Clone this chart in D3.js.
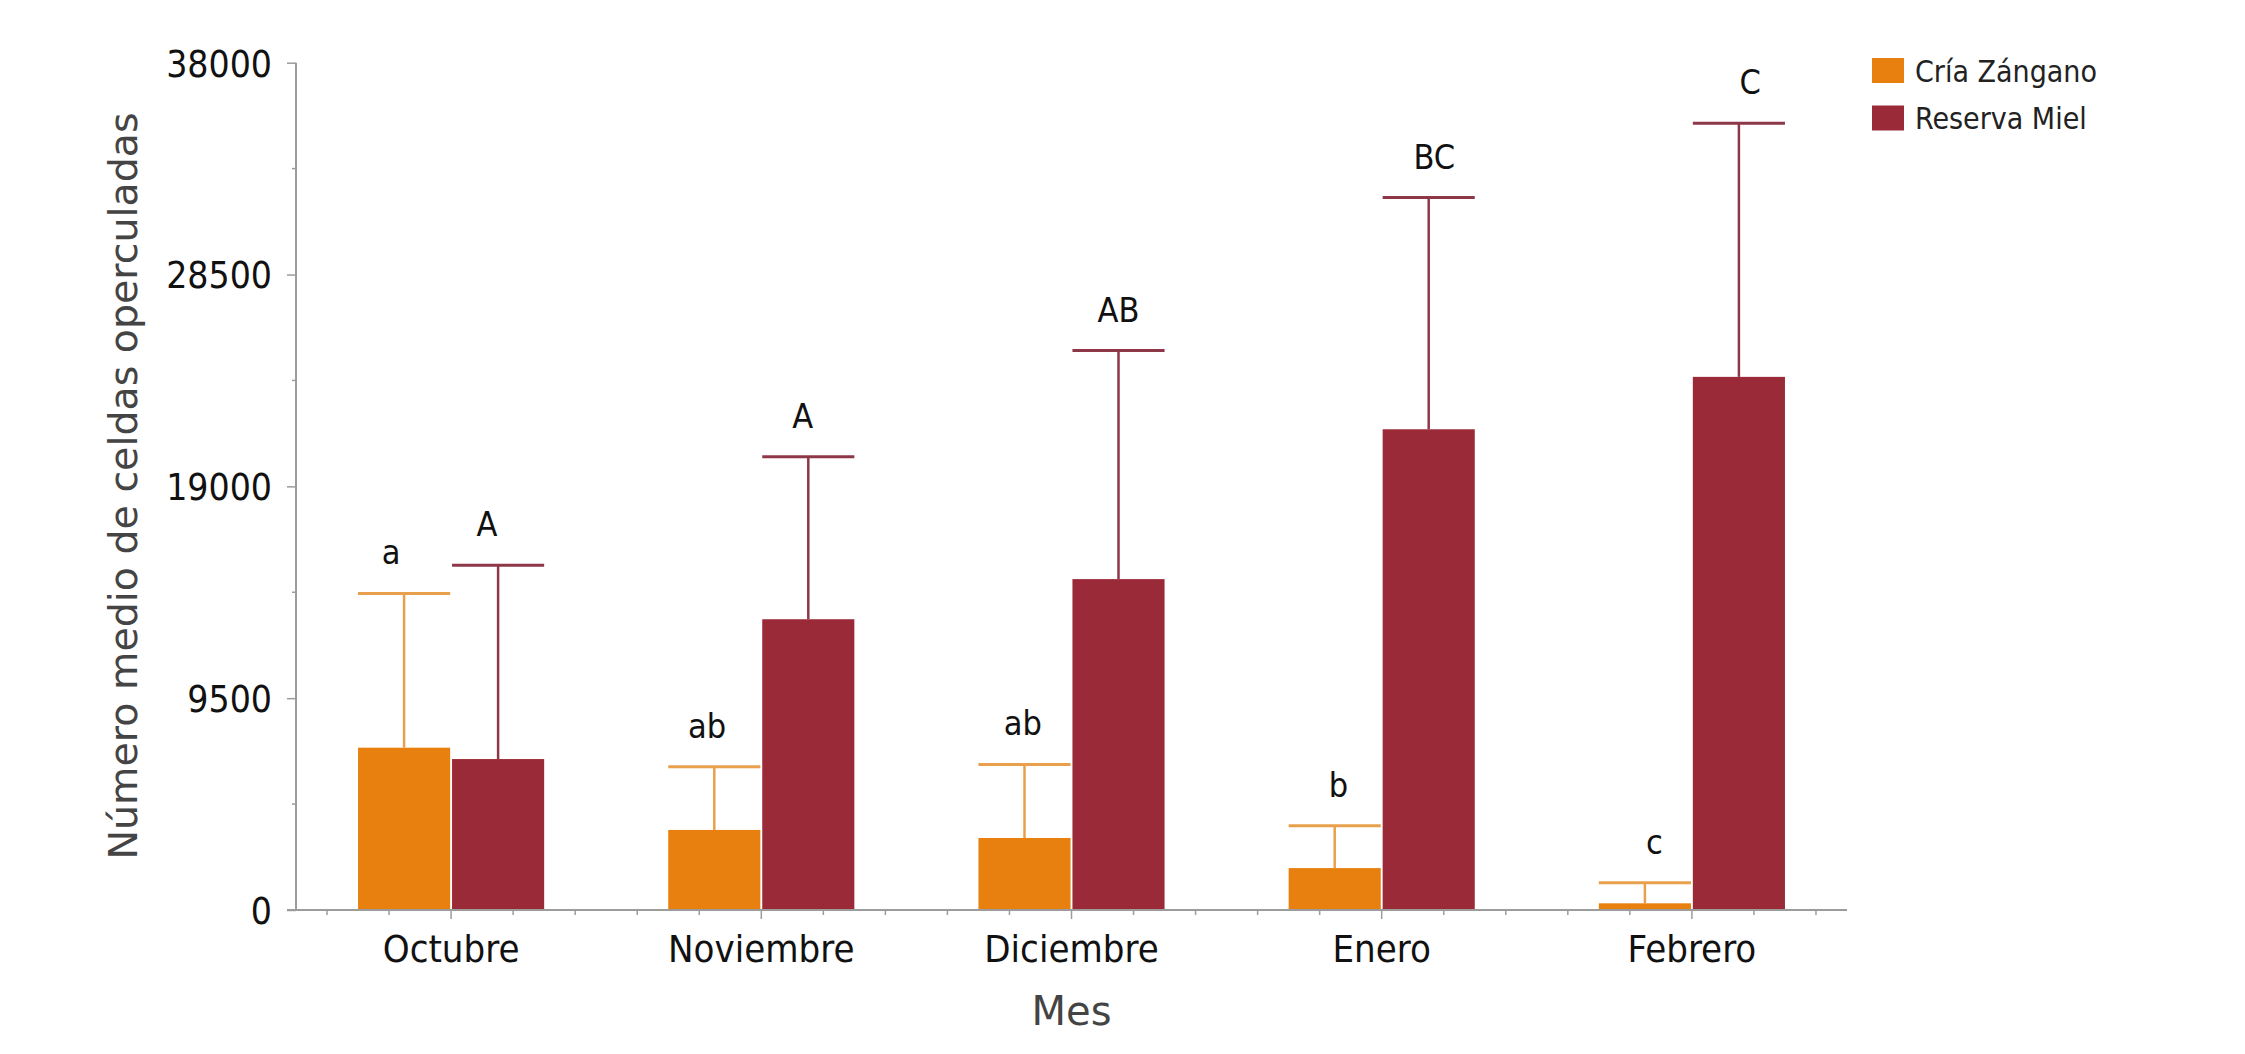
<!DOCTYPE html>
<html>
<head>
<meta charset="utf-8">
<script src="https://cdn.jsdelivr.net/npm/d3@7"></script>
<style>
  html, body { margin: 0; padding: 0; background: #ffffff; }
  svg { display: block; }
</style>
</head>
<body>
<svg id="chart" width="2245" height="1054"></svg>
<script>
// ---------------- data ----------------
const months = ["Octubre", "Noviembre", "Diciembre", "Enero", "Febrero"];
const seriesNames = ["Cría Zángano", "Reserva Miel"];
const criaMean = [7280, 3590, 3230, 1880, 300];
const criaErr = [6920, 2840, 3300, 1900, 920];
const mielMean = [6770, 13040, 14840, 21560, 23910];
const mielErr = [8690, 7290, 10250, 10390, 11380];
const criaLetters = ["a", "ab", "ab", "b", "c"];
const mielLetters = ["A", "A", "AB", "BC", "C"];
const yTicks = [0, 9500, 19000, 28500, 38000];
const yMax = 38000;
const xTitle = "Mes";
const yTitle = "Número medio de celdas operculadas";

// ---------------- layout / style ----------------
const plot = { left: 296, right: 1847, top: 62.7, bottom: 910 };
const colors = { "Cría Zángano": "#e8800f", "Reserva Miel": "#9b2a38" };
const errColors = { "Cría Zángano": "#e9a04c", "Reserva Miel": "#8e3748" };
const axisColor = "#9c9c9c";
const condensed = "'DejaVu Sans Condensed', 'DejaVu Sans', sans-serif";
const regular = "'DejaVu Sans', Verdana, sans-serif";

const svg = d3.select("#chart");

const x0 = d3.scaleBand().domain(months).range([plot.left, plot.right])
  .paddingInner(0.4).paddingOuter(0.2);
const x1 = d3.scaleBand().domain(seriesNames).range([0, x0.bandwidth()]).paddingInner(0.02);
const y = d3.scaleLinear().domain([0, yMax]).range([plot.bottom, plot.top]);

const rows = months.map((m, i) => ({
  month: m,
  values: [
    { name: seriesNames[0], mean: criaMean[i], err: criaErr[i], letter: criaLetters[i] },
    { name: seriesNames[1], mean: mielMean[i], err: mielErr[i], letter: mielLetters[i] }
  ]
}));

// ---------------- bars ----------------
const groups = svg.append("g").selectAll("g").data(rows).join("g")
  .attr("transform", d => `translate(${x0(d.month)},0)`);

groups.selectAll("rect").data(d => d.values).join("rect")
  .attr("x", d => x1(d.name))
  .attr("y", d => y(d.mean))
  .attr("width", x1.bandwidth())
  .attr("height", d => y(0) - y(d.mean))
  .attr("fill", d => colors[d.name]);

// error bars
groups.selectAll("line.v").data(d => d.values).join("line")
  .attr("class", "v")
  .attr("x1", d => x1(d.name) + x1.bandwidth() / 2)
  .attr("x2", d => x1(d.name) + x1.bandwidth() / 2)
  .attr("y1", d => y(d.mean))
  .attr("y2", d => y(d.mean + d.err))
  .attr("stroke", d => errColors[d.name])
  .attr("stroke-width", 2.5);

groups.selectAll("line.cap").data(d => d.values).join("line")
  .attr("class", "cap")
  .attr("x1", d => x1(d.name))
  .attr("x2", d => x1(d.name) + x1.bandwidth())
  .attr("y1", d => y(d.mean + d.err))
  .attr("y2", d => y(d.mean + d.err))
  .attr("stroke", d => errColors[d.name])
  .attr("stroke-width", 3);

// significance letters (slightly spread around a pivot as in the original)
const pivot = x0(months[2]) + x1(seriesNames[1]) + x1.bandwidth() / 2;
svg.append("g").selectAll("text").data(rows.flatMap(r => r.values.map(v => ({ ...v, month: r.month }))))
  .join("text")
  .attr("x", d => {
    const cx = x0(d.month) + x1(d.name) + x1.bandwidth() / 2;
    return cx + (cx - pivot) * 0.018;
  })
  .attr("y", d => y(d.mean + d.err) - 29)
  .attr("text-anchor", "middle")
  .attr("font-family", condensed)
  .attr("font-size", 34)
  .attr("fill", "#111")
  .text(d => d.letter);

// ---------------- axes ----------------
// y axis
const yAxis = svg.append("g").attr("transform", `translate(${plot.left},0)`)
  .call(d3.axisLeft(y).tickValues(yTicks).tickSize(9).tickPadding(15).tickFormat(d3.format("d")));
yAxis.select(".domain").remove();
yAxis.selectAll(".tick line").attr("stroke", axisColor).attr("stroke-width", 1.5);
yAxis.selectAll(".tick text")
  .attr("font-family", condensed).attr("font-size", 37).attr("fill", "#111").attr("dy", "0.36em");
yAxis.append("line").attr("x1", 0).attr("x2", 0).attr("y1", y(yMax)).attr("y2", y(0))
  .attr("stroke", axisColor).attr("stroke-width", 2);
// minor y ticks
const yMinor = d3.range(0, yMax + 1, 4750).filter(v => !yTicks.includes(v));
yAxis.selectAll("line.minor").data(yMinor).join("line").attr("class", "minor")
  .attr("x1", -4).attr("x2", 0).attr("y1", d => y(d)).attr("y2", d => y(d))
  .attr("stroke", axisColor).attr("stroke-width", 1.5);

// x axis
const xAxis = svg.append("g").attr("transform", `translate(0,${plot.bottom})`)
  .call(d3.axisBottom(x0).tickSize(9).tickPadding(16));
xAxis.select(".domain").remove();
xAxis.selectAll(".tick line").attr("stroke", axisColor).attr("stroke-width", 1.5);
xAxis.selectAll(".tick text")
  .attr("font-family", condensed).attr("font-size", 38).attr("fill", "#111");
xAxis.append("line").attr("x1", plot.left - 9).attr("x2", plot.right).attr("y1", 0).attr("y2", 0)
  .attr("stroke", axisColor).attr("stroke-width", 2);
// minor x ticks
const step = x0.step() / 5;
const xMinor = months.flatMap(m => [-2, -1, 1, 2].map(k => x0(m) + x0.bandwidth() / 2 + k * step));
xAxis.selectAll("line.minor").data(xMinor).join("line").attr("class", "minor")
  .attr("x1", d => d).attr("x2", d => d).attr("y1", 0).attr("y2", 5)
  .attr("stroke", axisColor).attr("stroke-width", 1.5);

// axis titles
svg.append("text")
  .attr("x", (plot.left + plot.right) / 2)
  .attr("y", 1025)
  .attr("text-anchor", "middle")
  .attr("font-family", regular).attr("font-size", 40).attr("fill", "#444")
  .text(xTitle);

svg.append("text")
  .attr("transform", `translate(137,${(110 + 862) / 2}) rotate(-90)`)
  .attr("text-anchor", "middle")
  .attr("font-family", regular).attr("font-size", 39.5).attr("fill", "#444")
  .text(yTitle);

// ---------------- legend ----------------
const legend = svg.append("g").attr("transform", "translate(1872,58)");
const li = legend.selectAll("g").data(seriesNames).join("g")
  .attr("transform", (d, i) => `translate(0,${i * 47.5})`);
li.append("rect").attr("width", 32).attr("height", 25).attr("fill", d => colors[d]);
li.append("text").attr("x", 43).attr("y", 23.5)
  .attr("font-family", condensed).attr("font-size", 30).attr("fill", "#222")
  .text(d => d);
</script>
</body>
</html>
